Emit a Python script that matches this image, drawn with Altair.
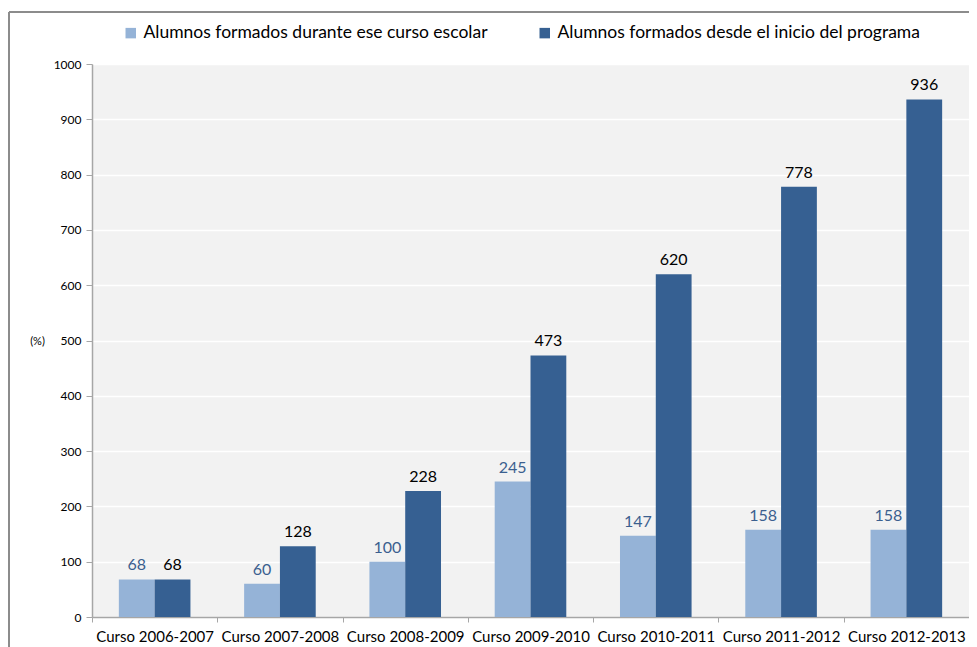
import altair as alt
import pandas as pd

categories = ["Curso 2006-2007", "Curso 2007-2008", "Curso 2008-2009", "Curso 2009-2010",
              "Curso 2010-2011", "Curso 2011-2012", "Curso 2012-2013"]
series_names = ["Alumnos formados durante ese curso escolar",
                "Alumnos formados desde el inicio del programa"]
durante = [68, 60, 100, 245, 147, 158, 158]
desde = [68, 128, 228, 473, 620, 778, 936]
y_ticks = list(range(0, 1001, 100))

rows = []
for c, a, b in zip(categories, durante, desde):
    rows.append({"curso": c, "serie": series_names[0], "valor": a})
    rows.append({"curso": c, "serie": series_names[1], "valor": b})
df = pd.DataFrame(rows)

FONT = "Lato"
W, H = 877, 553

x_enc = alt.X("curso:N", sort=categories,
              scale=alt.Scale(paddingInner=0, paddingOuter=0),
              axis=alt.Axis(title=None, labelAngle=0, labelFontSize=15, labelColor="#000000",
                            labelFont=FONT, tickBand="extent", tickSize=5, tickColor="#a6a6a6",
                            domainColor="#a6a6a6", domainWidth=1.5, labelPadding=7, grid=False))
xo_enc = alt.XOffset("serie:N", sort=series_names,
                     scale=alt.Scale(paddingInner=0, paddingOuter=0.75))
y_enc = alt.Y("valor:Q",
              scale=alt.Scale(domain=[0, 1000], nice=False),
              axis=alt.Axis(values=y_ticks, format="d", title="(%)", titleAngle=0,
                            titleX=-55, titleY=277,
                            titleAlign="center", titleBaseline="middle", titleFontSize=11,
                            titleFontWeight="normal", titleFont=FONT, titleColor="#000000",
                            labelFontSize=12, labelFont=FONT, labelColor="#000000",
                            tickSize=6, tickColor="#a6a6a6", domainColor="#a6a6a6",
                            domainWidth=1.5, labelPadding=5,
                            grid=True, gridColor="#ffffff", gridWidth=1.5))

bars = alt.Chart(df).mark_bar().encode(
    x=x_enc, xOffset=xo_enc, y=y_enc,
    color=alt.Color("serie:N", sort=series_names,
                    scale=alt.Scale(domain=series_names, range=["#95b3d7", "#366092"]),
                    legend=alt.Legend(title=None, orient="none", legendX=30, legendY=-40,
                                      direction="horizontal", symbolType="square",
                                      symbolSize=110, symbolStrokeWidth=0, labelFontSize=17.5,
                                      labelFont=FONT, labelColor="#000000", labelOffset=4,
                                      columnPadding=48, padding=0, labelLimit=500)),
)

labels = alt.Chart(df).mark_text(baseline="bottom", dy=-6, fontSize=16, font=FONT).encode(
    x=alt.X("curso:N", sort=categories), xOffset=alt.XOffset("serie:N", sort=series_names),
    y=alt.Y("valor:Q"),
    text=alt.Text("valor:Q"),
    color=alt.condition(alt.datum.serie == series_names[0], alt.value("#3b5f8f"), alt.value("#000000")),
)

frame_v = alt.Chart(df).mark_rule(color="#8c8c8c", strokeWidth=2).encode(
    x=alt.value(-83), y=alt.value(-52), y2=alt.value(H + 40))
frame_h = alt.Chart(df).mark_rule(color="#8c8c8c", strokeWidth=2).encode(
    x=alt.value(-83), x2=alt.value(W + 10), y=alt.value(-52))

chart = alt.layer(frame_v, frame_h, bars, labels).properties(
    width=W, height=H,
    autosize=alt.AutoSizeParams(type="none"),
    padding={"left": 84, "top": 56, "right": 0, "bottom": 32},
    background="#ffffff",
).configure_view(fill="#f2f2f2", stroke=None)

chart.save("out.html", embed_options={"renderer": "svg", "actions": False})
